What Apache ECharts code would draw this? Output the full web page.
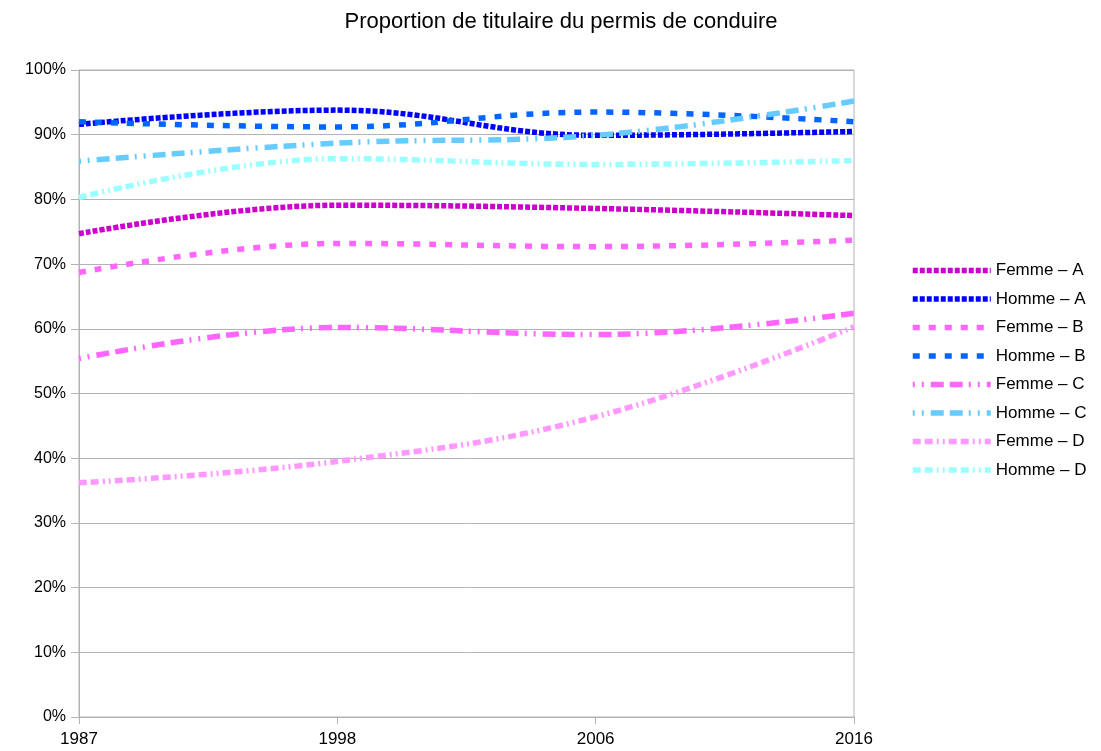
<!DOCTYPE html>
<html lang="fr">
<head>
  <meta charset="utf-8" />
  <title>Proportion de titulaire du permis de conduire</title>
  <script src="https://cdn.jsdelivr.net/npm/echarts@6.0.0/dist/echarts.min.js"></script>
  <style>
    html, body { margin: 0; padding: 0; background: #fff; }
    #chart { width: 1101px; height: 751px; }
  </style>
</head>
<body>
<div id="chart"></div>
<script type="text/javascript">
  // annees
  var years = ['1987', '1998', '2006', '2016'];

  // valeurs en %
  var femmeA = [74.7, 79.1, 78.6, 77.5];
  var hommeA = [91.6, 93.8, 89.9, 90.5];
  var femmeB = [68.7, 73.2, 72.7, 73.7];
  var hommeB = [92.0, 91.2, 93.5, 92.0];
  var femmeC = [55.4, 60.2, 59.1, 62.4];
  var hommeC = [85.9, 88.7, 89.9, 95.2];
  var femmeD = [36.2, 39.5, 46.4, 60.3];
  var hommeD = [80.3, 86.3, 85.4, 86.0];

  var chartDom = document.getElementById('chart');
  var myChart = echarts.init(chartDom);

  // petit raccourci pour les series
  function mkSeries(name, data, color, dash) {
    return {
      name: name,
      type: 'line',
      data: data,
      smooth: 0.4,
      symbol: 'none',
      lineStyle: {
        color: color,
        width: 5.5,
        type: dash,
        cap: 'butt'
      },
      itemStyle: { color: color }
    };
  }

  var dotted = [5, 2];
  var dashed = [7, 9];
  var dashDot = [2, 7, 2, 7, 13, 6, 13, 6];
  var longDot = [8, 4, 8, 4, 2, 4, 2, 4];

  var option = {
    animation: false,
    textStyle: { fontFamily: 'Liberation Sans', color: '#000' },
    title: {
      text: 'Proportion de titulaire du permis de conduire',
      left: 556,
      textAlign: 'center',
      top: 6,
      textStyle: {
        fontFamily: 'Liberation Sans',
        fontSize: 22,
        fontWeight: 'normal',
        color: '#000'
      }
    },
    legend: {
      orient: 'vertical',
      left: 905,
      top: 257,
      itemWidth: 78,
      itemHeight: 14,
      itemGap: 11.5,
      itemStyle: { opacity: 0 },
      lineStyle: { width: 5.5 },
      textStyle: { fontFamily: 'Liberation Sans', fontSize: 17, color: '#000' }
    },
    grid: {
      left: 79,
      right: 247,
      top: 70,
      bottom: 34,
      show: true,
      borderColor: '#b3b3b3',
      borderWidth: 1
    },
    xAxis: {
      type: 'category',
      data: years,
      boundaryGap: false,
      axisLine: { lineStyle: { color: '#b3b3b3', width: 1 } },
      axisTick: { length: 7, lineStyle: { color: '#b3b3b3' } },
      axisLabel: { fontSize: 17, color: '#000', margin: 14 },
      splitLine: { show: false }
    },
    yAxis: {
      type: 'value',
      min: 0,
      max: 100,
      interval: 10,
      axisLine: { show: true, lineStyle: { color: '#b3b3b3' } },
      axisTick: { show: true, length: 8, lineStyle: { color: '#b3b3b3' } },
      axisLabel: { formatter: '{value}%', fontSize: 16, color: '#000', margin: 13 },
      splitLine: { lineStyle: { color: '#b3b3b3', width: 1 } }
    },
    series: [
      mkSeries('Femme – A', femmeA, '#cc00cc', dotted),
      mkSeries('Homme – A', hommeA, '#0000ff', dotted),
      mkSeries('Femme – B', femmeB, '#ff66ff', dashed),
      mkSeries('Homme – B', hommeB, '#0066ff', dashed),
      mkSeries('Femme – C', femmeC, '#ff66ff', dashDot),
      mkSeries('Homme – C', hommeC, '#66ccff', dashDot),
      mkSeries('Femme – D', femmeD, '#ff99ff', longDot),
      mkSeries('Homme – D', hommeD, '#99ffff', longDot)
    ]
  };

  option && myChart.setOption(option);
</script>
</body>
</html>
